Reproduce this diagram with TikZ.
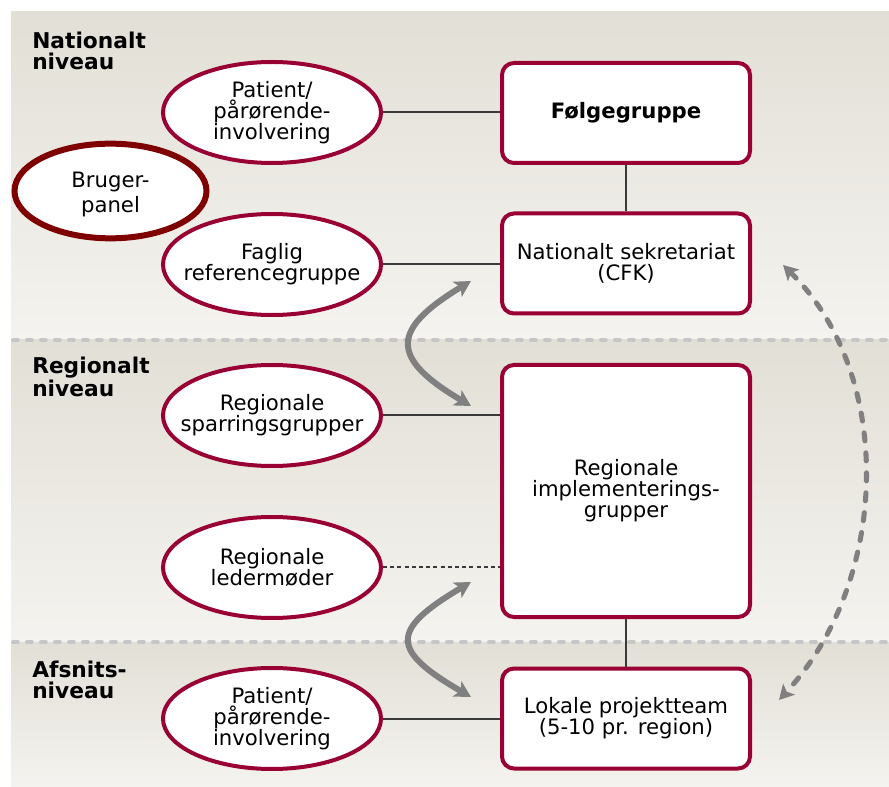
\documentclass[tikz,border=0pt]{standalone}
\usepackage{fontspec}
\setmainfont{DejaVu Sans}
\usetikzlibrary{shapes.geometric,arrows.meta}
\definecolor{crim}{HTML}{990033}
\definecolor{bord}{HTML}{7F0000}
\definecolor{conn}{HTML}{3A3A3A}
\definecolor{arr}{HTML}{808080}
\definecolor{bgdark}{HTML}{E2DFD6}
\definecolor{bglight}{HTML}{F4F3EF}
\definecolor{sepc}{HTML}{C6C6C6}
\begin{document}
\begin{tikzpicture}[x=0.75pt,y=-0.75pt,
  font=\fontsize{15.9}{15.75}\selectfont,
  oval/.style={ellipse, draw=crim, line width=3pt, fill=white,
    minimum width=163.5pt, minimum height=75.75pt, inner sep=0pt},
  bigoval/.style={ellipse, draw=bord, line width=4.5pt, fill=white,
    minimum width=144pt, minimum height=71pt, inner sep=0pt},
  txt/.style={inner sep=0pt, align=center},
  box/.style={rectangle, rounded corners=9pt, draw=crim, line width=3pt, fill=white,
    minimum width=186pt, minimum height=75pt, inner sep=0pt, align=center},
  lvl/.style={anchor=north west, inner sep=0pt, align=left,
    font=\fontsize{16.3}{15.75}\selectfont\bfseries},
  link/.style={draw=conn, line width=1.5pt},
  dotlink/.style={draw=conn, line width=1.5pt, dash pattern=on 3pt off 2.4pt},
  sepline/.style={draw=sepc, line width=3pt, line cap=round, dash pattern=on 3.6pt off 6.9pt},
  swaparrow/.style={draw=arr, line width=4.5pt,
    {Stealth[length=12pt,width=13pt,inset=3pt]}-{Stealth[length=12pt,width=13pt,inset=3pt]}},
  farrow/.style={draw=arr, line width=3.8pt, line cap=round, dash pattern=on 6pt off 9pt,
    {Stealth[length=11pt,width=12pt,inset=2.5pt]}-{Stealth[length=11pt,width=12pt,inset=2.5pt]}}
]
\useasboundingbox (0,0) rectangle (889,787);
% background bands
\shade[top color=bgdark, bottom color=bglight] (11,12) rectangle (889,340);
\shade[top color=bgdark, bottom color=bglight] (11,340) rectangle (889,642);
\shade[top color=bgdark, bottom color=bglight] (11,642) rectangle (889,787);
\draw[sepline] (13,340) -- (889,340);
\draw[sepline] (13,642) -- (889,642);

% level labels
\node[lvl] (l1) at (32,32) {Nationalt\\niveau};
\node[lvl] (l2) at (32,357) {Regionalt\\niveau};
\node[lvl] (l3) at (32,661) {Afsnits-\\niveau};

% ovals
\node[oval] (pat1) at (272,112.5) {};
\node[txt] (pat1t) at (pat1) {Patient/\\pårørende-\\involvering};
\node[bigoval] (brug) at (110.5,191) {};
\node[txt, font=\fontsize{15.9}{18.75}\selectfont] (brugt) at (110.5,194) {Bruger-\\panel};
\node[oval] (fag) at (272,264.5) {};
\node[txt] (fagt) at (fag) {Faglig\\referencegruppe};
\node[oval] (spar) at (272,415.5) {};
\node[txt] (spart) at (spar) {Regionale\\sparringsgrupper};
\node[oval] (led) at (272,567.5) {};
\node[txt] (ledt) at (led) {Regionale\\ledermøder};
\node[oval] (pat2) at (272,718.5) {};
\node[txt] (pat2t) at (pat2) {Patient/\\pårørende-\\involvering};

% boxes
\node[box] (folg) at (626,113) {\bfseries Følgegruppe};
\node[box] (sek) at (626,263.5) {Nationalt sekretariat\\(CFK)};
\node[box, minimum height=189pt] (reg) at (626,491) {Regionale\\implementerings-\\grupper};
\node[box] (lok) at (626,718.5) {Lokale projektteam\\(5-10 pr. region)};

% connectors
\draw[link] (pat1.east) -- (pat1.east -| folg.west);
\draw[link] (folg.south) -- (sek.north);
\draw[link] (fag.east) -- (fag.east -| sek.west);
\draw[link] (spar.east) -- (spar.east -| reg.west);
\draw[dotlink] (led.east) -- (led.east -| reg.west);
\draw[link] (reg.south) -- (lok.north);
\draw[link] (pat2.east) -- (pat2.east -| lok.west);

% curved arrows
\coordinate (a1s) at (471,281);
\coordinate (a1e) at (471,406);
\coordinate (a2s) at (471,582);
\coordinate (a2e) at (471,697);
\draw[swaparrow] (a1s) .. controls (390,330) and (390,358) .. (a1e);
\draw[swaparrow] (a2s) .. controls (390,630) and (390,650) .. (a2e);

\coordinate (b1) at (783,265);
\coordinate (b2) at (779,700);
\draw[farrow] (b1) .. controls (895,375) and (890,580) .. (b2);
\end{tikzpicture}
\end{document}
